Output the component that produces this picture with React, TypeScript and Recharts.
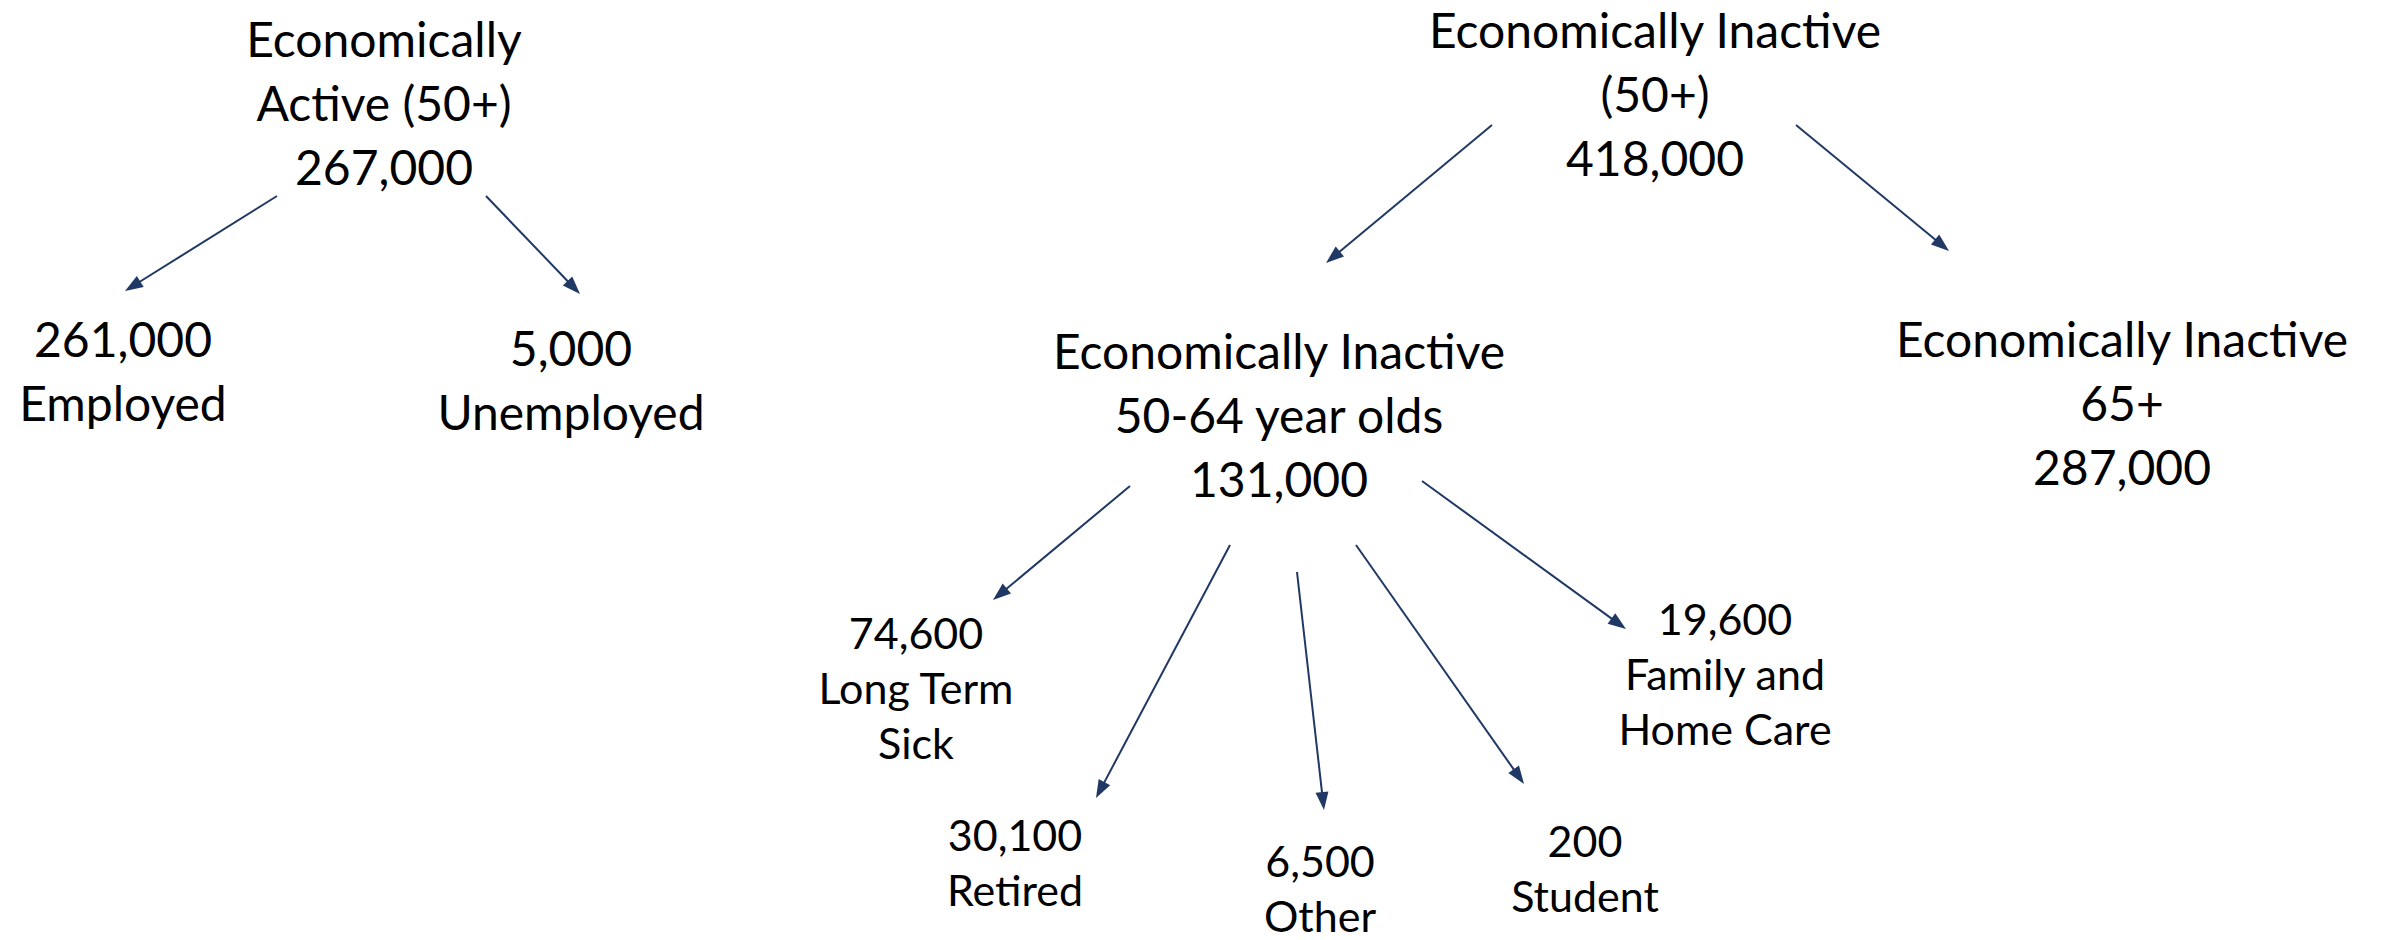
import React from 'react';
import { ScatterChart, Scatter, XAxis, YAxis, ReferenceLine } from 'recharts';

// Tree of economic activity, people aged 50+
const nodeValues = [267000, 261000, 5000, 418000, 131000, 287000, 74600, 30100, 6500, 200, 19600];

const labelsAbove = [
  ['Economically', 'Active (50+)'],
  [],
  [],
  ['Economically Inactive', '(50+)'],
  ['Economically Inactive', '50-64 year olds'],
  ['Economically Inactive', '65+'],
  [], [], [], [], [],
];

const labelsBelow = [
  [],
  ['Employed'],
  ['Unemployed'],
  [],
  [],
  [],
  ['Long Term', 'Sick'],
  ['Retired'],
  ['Other'],
  ['Student'],
  ['Family and', 'Home Care'],
];

// parent -> child
const links = [[0, 1], [0, 2], [3, 4], [3, 5], [4, 6], [4, 7], [4, 8], [4, 9], [4, 10]];

// layout (diagram units) for node text blocks
const nodeX = [384, 123, 571, 1655, 1279, 2122, 916, 1015, 1320, 1585, 1725];
const nodeTopY = [38, 338, 347, 29, 350, 338, 632, 834, 860, 840, 618];
const nodeLevel = [0, 0, 0, 0, 0, 0, 1, 1, 1, 1, 1];

// layout for arrows, one entry per link
const arrowFrom = [[277, 196], [486, 196], [1492, 125], [1796, 125], [1130, 486], [1230, 545], [1297, 572], [1356, 545], [1422, 481]];
const arrowTo = [[125, 291], [580, 294], [1326, 263], [1949, 251], [993, 600], [1096, 798], [1324, 810], [1524, 784], [1626, 629]];

const W = 2387;
const H = 940;
const ARROW = '#203864';
const FONT = 'Lato, "Open Sans", sans-serif';
const fontSizes = [48, 43];
const lineGaps = [64, 55];

const fmt = (v: number) => v.toLocaleString('en-GB');

const nodes = nodeValues.map((v, i) => ({
  x: nodeX[i],
  y: nodeTopY[i],
  lines: [...labelsAbove[i], fmt(v), ...labelsBelow[i]],
  level: nodeLevel[i],
}));

const NodeLabel = (props: any) => {
  const { cx, cy, payload } = props;
  const size = fontSizes[payload.level];
  const gap = lineGaps[payload.level];
  return (
    <g>
      {payload.lines.map((t: string, k: number) => (
        <text
          key={k}
          x={cx}
          y={cy + k * gap}
          textAnchor="middle"
          dominantBaseline="central"
          fontFamily={FONT}
          fontSize={size}
          fill="#000"
        >
          {t}
        </text>
      ))}
    </g>
  );
};

const Arrow = (props: any) => {
  const { x1, y1, x2, y2 } = props;
  const dx = x2 - x1;
  const dy = y2 - y1;
  const len = Math.sqrt(dx * dx + dy * dy);
  const ux = dx / len;
  const uy = dy / len;
  const head = 18;
  const half = 6.5;
  const bx = x2 - ux * head;
  const by = y2 - uy * head;
  const pts = `${x2},${y2} ${bx - uy * half},${by + ux * half} ${bx + uy * half},${by - ux * half}`;
  return (
    <g>
      <line x1={x1} y1={y1} x2={bx + ux * 2} y2={by + uy * 2} stroke={ARROW} strokeWidth={2} />
      <polygon points={pts} fill={ARROW} />
    </g>
  );
};

export default function App() {
  return (
    <div style={{ background: '#fff' }}>
      <style>{'body{margin:0;}'}</style>
      <ScatterChart width={W} height={H} margin={{ top: 0, right: 0, bottom: 0, left: 0 }}>
        <XAxis type="number" dataKey="x" domain={[0, W]} hide />
        <YAxis type="number" dataKey="y" domain={[0, H]} reversed hide />
        {links.map((l, i) => (
          <ReferenceLine
            key={`${l[0]}-${l[1]}`}
            segment={[
              { x: arrowFrom[i][0], y: arrowFrom[i][1] },
              { x: arrowTo[i][0], y: arrowTo[i][1] },
            ]}
            shape={(p: any) => <Arrow {...p} />}
            ifOverflow="visible"
          />
        ))}
        <Scatter data={nodes} shape={(p: any) => <NodeLabel {...p} />} isAnimationActive={false} />
      </ScatterChart>
    </div>
  );
}
